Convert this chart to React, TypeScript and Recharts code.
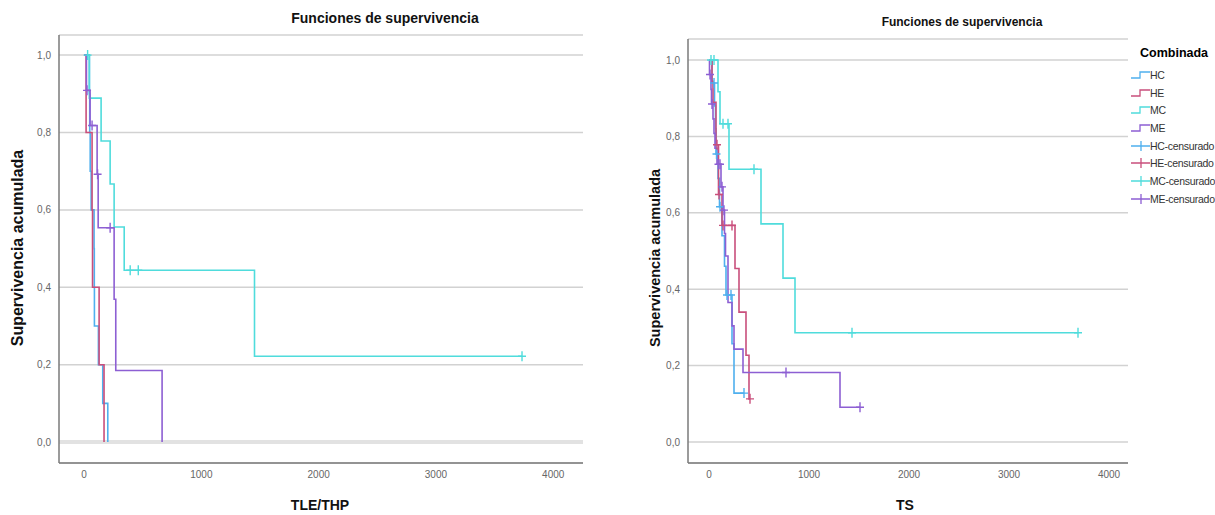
import { ComposedChart, Line, Scatter, XAxis, YAxis, CartesianGrid, ReferenceLine } from 'recharts';

// Left panel: TLE/THP (event times, survival after each event, censored times)
const tleHcTimes = [45, 48, 52, 60, 85, 87, 88, 122, 159, 202];
const tleHcSurv = [0.9, 0.8, 0.7, 0.6, 0.5, 0.4, 0.3, 0.2, 0.1, 0.0];
const tleHcCens: number[] = [];

const tleHeTimes = [17, 68, 72, 128, 170];
const tleHeSurv = [0.8, 0.6, 0.4, 0.2, 0.0];
const tleHeCens: number[] = [];

const tleMcTimes = [45, 145, 222, 256, 342, 1453];
const tleMcSurv = [0.889, 0.778, 0.667, 0.556, 0.444, 0.222];
const tleMcCens = [30, 393, 462, 3734];

const tleMeTimes = [20, 51, 111, 120, 256, 270, 665];
const tleMeSurv = [0.909, 0.818, 0.692, 0.554, 0.369, 0.185, 0.0];
const tleMeCens = [25, 68, 115, 222];

// Right panel: TS
const tsHcTimes = [30, 55, 65, 70, 90, 105, 130, 155, 170, 230, 250];
const tsHcSurv = [0.94, 0.88, 0.82, 0.754, 0.69, 0.616, 0.54, 0.46, 0.385, 0.257, 0.128];
const tsHcCens = [50, 75, 110, 180, 220, 350];

const tsHeTimes = [30, 40, 70, 95, 130, 260, 300, 370, 400];
const tsHeSurv = [0.944, 0.889, 0.778, 0.648, 0.567, 0.454, 0.34, 0.227, 0.113];
const tsHeCens = [80, 100, 140, 230, 410];

const tsMcTimes = [90, 110, 200, 520, 740, 860];
const tsMcSurv = [0.917, 0.833, 0.714, 0.571, 0.429, 0.286];
const tsMcCens = [20, 50, 140, 190, 450, 1430, 3690];

const tsMeTimes = [5, 20, 25, 40, 50, 60, 80, 120, 140, 155, 165, 190, 230, 250, 340, 1310];
const tsMeSurv = [0.962, 0.923, 0.885, 0.846, 0.808, 0.769, 0.727, 0.668, 0.607, 0.546, 0.487, 0.365, 0.304, 0.243, 0.182, 0.091];
const tsMeCens = [10, 30, 95, 110, 130, 150, 770, 1510];

const xTicks = [0, 1000, 2000, 3000, 4000];
const yTicks = [0, 0.2, 0.4, 0.6, 0.8, 1.0];
const groups = ['HC', 'HE', 'MC', 'ME'];

const COLORS: Record<string, string> = {
  HC: '#4fb0ee',
  HE: '#c94f7c',
  MC: '#4fdcdc',
  ME: '#8d5fd3',
};

const FONT = '"Liberation Sans", Arial, sans-serif';

type Pt = { t: number; s: number };

function stepCurve(times: number[], surv: number[], cens: number[]): Pt[] {
  const pts: Pt[] = [{ t: 0, s: 1 }];
  times.forEach((t, i) => pts.push({ t, s: surv[i] }));
  const lastT = times[times.length - 1];
  const end = Math.max(lastT, ...cens);
  if (end > lastT) pts.push({ t: end, s: surv[surv.length - 1] });
  return pts;
}

function censMarks(times: number[], surv: number[], cens: number[]): Pt[] {
  return cens.map((t) => {
    let s = 1;
    times.forEach((et, i) => {
      if (et <= t) s = surv[i];
    });
    return { t, s };
  });
}

const crossShape = (color: string) => (props: any) => {
  const { cx, cy } = props;
  if (cx == null || cy == null) return <g />;
  return (
    <path
      d={`M${cx - 4},${cy}h8M${cx},${cy - 5}v10`}
      stroke={color}
      strokeWidth={1.4}
      fill="none"
    />
  );
};

const fmtY = (v: number) => v.toFixed(1).replace('.', ',');

type Series = { key: string; times: number[]; surv: number[]; cens: number[] };

const leftSeries: Series[] = [
  { key: 'HC', times: tleHcTimes, surv: tleHcSurv, cens: tleHcCens },
  { key: 'HE', times: tleHeTimes, surv: tleHeSurv, cens: tleHeCens },
  { key: 'MC', times: tleMcTimes, surv: tleMcSurv, cens: tleMcCens },
  { key: 'ME', times: tleMeTimes, surv: tleMeSurv, cens: tleMeCens },
];

const rightSeries: Series[] = [
  { key: 'HC', times: tsHcTimes, surv: tsHcSurv, cens: tsHcCens },
  { key: 'HE', times: tsHeTimes, surv: tsHeSurv, cens: tsHeCens },
  { key: 'MC', times: tsMcTimes, surv: tsMcSurv, cens: tsMcCens },
  { key: 'ME', times: tsMeTimes, surv: tsMeSurv, cens: tsMeCens },
];

function SurvivalPanel({
  series,
  width,
  margin,
  yAxisWidth,
  xDomain,
  yDomain,
  zeroBand,
}: {
  series: Series[];
  width: number;
  margin: { top: number; right: number; bottom: number; left: number };
  yAxisWidth: number;
  xDomain: [number, number];
  yDomain: [number, number];
  zeroBand?: boolean;
}) {
  const tickStyle = { fill: '#666', fontSize: 10, fontFamily: FONT };
  return (
    <ComposedChart width={width} height={515} margin={margin}>
      <CartesianGrid vertical={false} stroke="#d2d2d2" strokeWidth={1.5} />
      {zeroBand && <ReferenceLine y={0} stroke="#e2e2e2" strokeWidth={4} />}
      <XAxis
        type="number"
        dataKey="t"
        domain={xDomain}
        ticks={xTicks}
        allowDataOverflow
        height={30}
        tickLine={false}
        axisLine={{ stroke: '#7a7a7a', strokeWidth: 1.5 }}
        tick={tickStyle}
      />
      <YAxis
        type="number"
        dataKey="s"
        domain={yDomain}
        ticks={yTicks}
        allowDataOverflow
        width={yAxisWidth}
        tickLine={false}
        axisLine={{ stroke: '#7a7a7a', strokeWidth: 1.5 }}
        tick={tickStyle}
        tickFormatter={fmtY}
      />
      {series.map((s) => (
        <Line
          key={`l-${s.key}`}
          data={stepCurve(s.times, s.surv, s.cens)}
          dataKey="s"
          type="stepAfter"
          stroke={COLORS[s.key]}
          strokeWidth={1.6}
          dot={false}
          activeDot={false}
          isAnimationActive={false}
        />
      ))}
      {series.map((s) => (
        <Scatter
          key={`c-${s.key}`}
          data={censMarks(s.times, s.surv, s.cens)}
          dataKey="s"
          shape={crossShape(COLORS[s.key])}
          isAnimationActive={false}
        />
      ))}
    </ComposedChart>
  );
}

function Legend() {
  const items = [
    ...groups.map((g) => ({ label: g, color: COLORS[g], cens: false })),
    ...groups.map((g) => ({ label: `${g}-censurado`, color: COLORS[g], cens: true })),
  ];
  return (
    <div style={{ position: 'absolute', left: 1128, top: 42, width: 87 }}>
      <div style={{ fontFamily: FONT, fontWeight: 'bold', fontSize: 12.5, marginLeft: 12, height: 24, lineHeight: '22px' }}>
        Combinada
      </div>
      {items.map((it) => (
        <div key={it.label} style={{ display: 'flex', alignItems: 'center', height: 17.7 }}>
          <svg width={22} height={14}>
            {it.cens ? (
              <path d="M3,7h19M13,2v10" stroke={it.color} strokeWidth={1.3} fill="none" />
            ) : (
              <path d="M3,10h9v-6h10" stroke={it.color} strokeWidth={1.3} fill="none" />
            )}
          </svg>
          <span style={{ fontFamily: FONT, fontSize: 10.5, color: '#333', letterSpacing: -0.3, whiteSpace: 'nowrap' }}>
            {it.label}
          </span>
        </div>
      ))}
    </div>
  );
}

const label = (
  text: string,
  x: number,
  y: number,
  size: number,
  rotate = false
) => (
  <div
    style={{
      position: 'absolute',
      left: x,
      top: y,
      transform: `translate(-50%, -50%)${rotate ? ' rotate(-90deg)' : ''}`,
      fontFamily: FONT,
      fontWeight: 'bold',
      fontSize: size,
      color: '#111',
      whiteSpace: 'nowrap',
    }}
  >
    {text}
  </div>
);

export default function App() {
  return (
    <div style={{ position: 'absolute', left: 0, top: 0, width: 1215, height: 515, background: '#fff', overflow: 'hidden' }}>
      <div style={{ position: 'absolute', left: 0, top: 0 }}>
        <SurvivalPanel
          series={leftSeries}
          width={600}
          margin={{ top: 35, right: 17, bottom: 22, left: 0 }}
          yAxisWidth={59}
          xDomain={[-214, 4254]}
          yDomain={[-0.054, 1.052]}
          zeroBand
        />
      </div>
      <div style={{ position: 'absolute', left: 620, top: 0 }}>
        <SurvivalPanel
          series={rightSeries}
          width={595}
          margin={{ top: 39, right: 87, bottom: 22, left: 0 }}
          yAxisWidth={68}
          xDomain={[-210, 4190]}
          yDomain={[-0.055, 1.055]}
        />
      </div>
      {label('Funciones de supervivencia', 385, 18, 14)}
      {label('Funciones de supervivencia', 962, 22, 12)}
      {label('Supervivencia acumulada', 18, 248, 16, true)}
      {label('Supervivencia acumulada', 655, 258, 14.5, true)}
      {label('TLE/THP', 320, 505, 14)}
      {label('TS', 905, 505, 14)}
      <Legend />
    </div>
  );
}
